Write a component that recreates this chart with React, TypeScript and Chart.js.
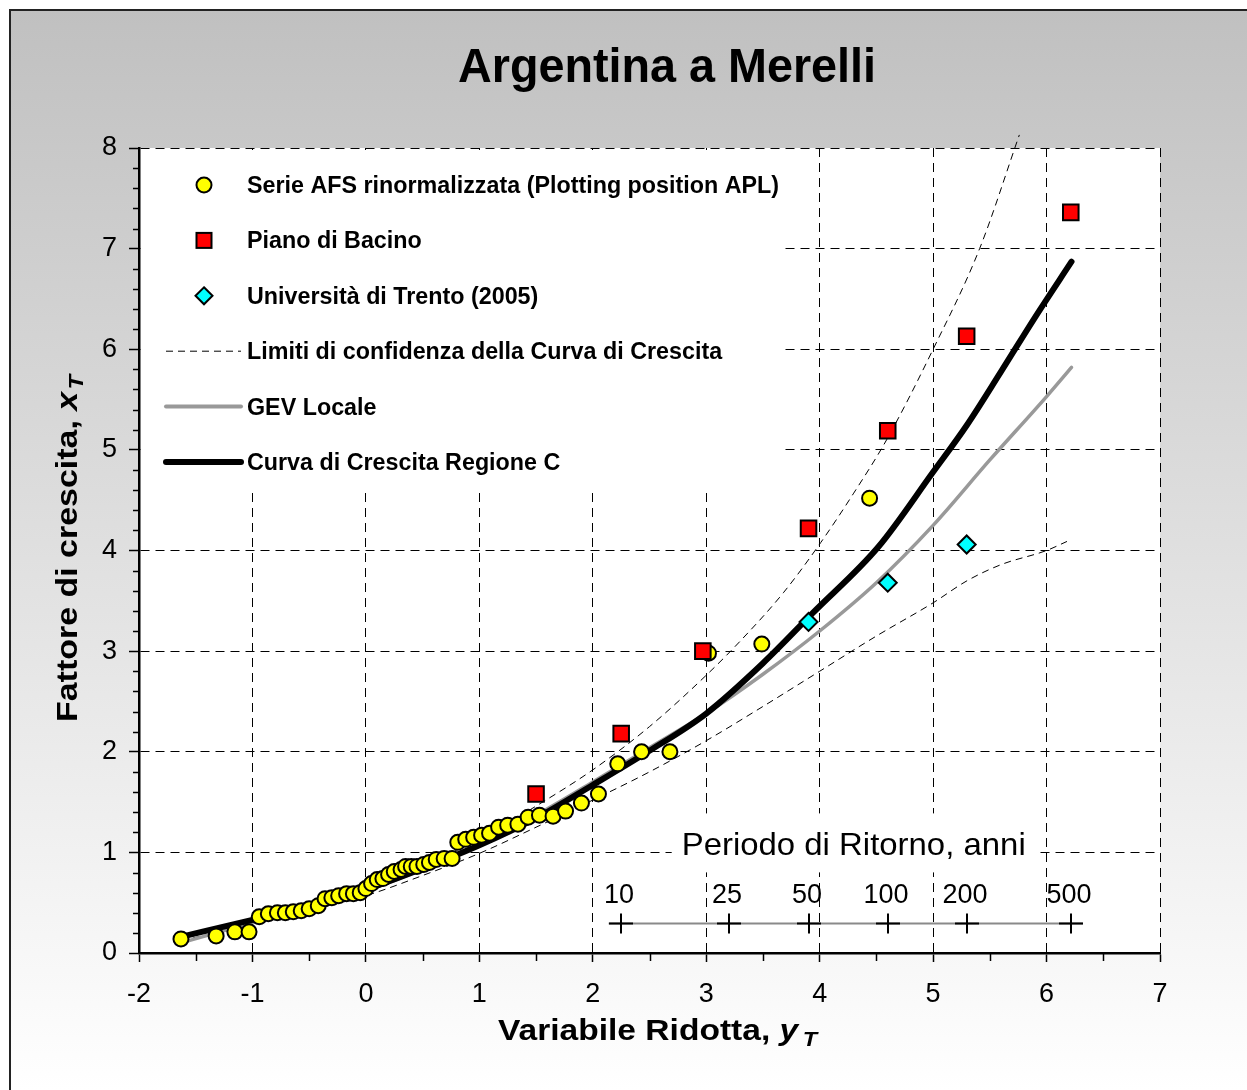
import { useEffect, useRef } from 'react';
import { Chart, registerables } from 'chart.js';

Chart.register(...registerables);

const FONT = '"Liberation Sans", Arial, Helvetica, sans-serif';

// Gumbel reduced variate for a return period T (years)
const reducedVariate = (T: number) => -Math.log(-Math.log(1 - 1 / T));

const chartTitle = 'Argentina a Merelli';
const xAxisTitle = 'Variabile Ridotta, ';
const yAxisTitle = 'Fattore di crescita, ';
const returnPeriodTitle = 'Periodo di Ritorno, anni';
const legendLabels = [
  'Serie AFS rinormalizzata (Plotting position APL)',
  'Piano di Bacino',
  'Università di Trento (2005)',
  'Limiti di confidenza della Curva di Crescita',
  'GEV Locale',
  'Curva di Crescita Regione C',
];

// Serie AFS rinormalizzata (plotting position APL)
const afsReducedVariate = [
  -1.63, -1.32, -1.155, -1.03, -0.94, -0.86, -0.78, -0.71, -0.64, -0.57, -0.5, -0.42, -0.36,
  -0.3, -0.24, -0.17, -0.11, -0.05, 0.0, 0.05, 0.1, 0.15, 0.2, 0.25, 0.31, 0.35, 0.4, 0.45,
  0.51, 0.56, 0.62, 0.69, 0.76, 0.81, 0.88, 0.95, 1.02, 1.09, 1.17, 1.25, 1.34, 1.43, 1.53,
  1.65, 1.76, 1.9, 2.05, 2.22, 2.43, 2.68, 3.02, 3.49, 4.44,
];
const afsGrowthFactor = [
  0.14, 0.17, 0.21, 0.21, 0.36, 0.39, 0.4, 0.4, 0.41, 0.42, 0.44, 0.47, 0.54,
  0.55, 0.57, 0.59, 0.59, 0.6, 0.64, 0.69, 0.73, 0.74, 0.78, 0.81, 0.83, 0.86, 0.86, 0.86,
  0.88, 0.9, 0.93, 0.94, 0.94, 1.1, 1.13, 1.15, 1.17, 1.19, 1.25, 1.27, 1.28, 1.35, 1.37,
  1.36, 1.41, 1.49, 1.58, 1.88, 2.0, 2.0, 2.98, 3.07, 4.52,
];

// Piano di Bacino
const pianoReturnPeriods = [5, 10, 20, 50, 100, 200, 500];
const pianoGrowthFactor = [1.58, 2.18, 3.0, 4.22, 5.19, 6.13, 7.36];

// Università di Trento (2005)
const trentoReturnPeriods = [50, 100, 200];
const trentoGrowthFactor = [3.29, 3.68, 4.06];

// Curva di Crescita Regione C
const regionCurveX = [-1.63, -1.0, -0.5, 0, 0.5, 1.0, 1.5, 2.0, 2.5, 3.0, 3.5, 3.94, 4.52, 5.0, 5.3, 5.6, 5.9, 6.22];
const regionCurveY = [0.16, 0.33, 0.46, 0.63, 0.84, 1.07, 1.34, 1.67, 2.01, 2.38, 2.88, 3.38, 4.04, 4.78, 5.25, 5.78, 6.32, 6.87];

// GEV Locale
const gevCurveX = [-1.63, -1.0, -0.5, 0, 0.5, 1.0, 1.5, 2.0, 2.5, 3.0, 3.5, 4.0, 4.5, 5.0, 5.5, 6.0, 6.22];
const gevCurveY = [0.1, 0.3, 0.45, 0.62, 0.83, 1.08, 1.37, 1.7, 2.04, 2.38, 2.77, 3.2, 3.68, 4.25, 4.9, 5.53, 5.82];

// Limiti di confidenza
const upperLimitX = [-1.63, -1.0, 0, 1.0, 1.5, 2.0, 2.5, 3.0, 3.3, 3.68, 4.01, 4.3, 4.59, 5.0, 5.41, 5.76];
const upperLimitY = [0.16, 0.34, 0.67, 1.13, 1.46, 1.82, 2.25, 2.76, 3.1, 3.58, 4.08, 4.57, 5.1, 6.0, 7.0, 8.13];
const lowerLimitX = [-1.63, -1.0, 0, 0.5, 1.0, 1.5, 2.0, 2.5, 3.0, 3.5, 4.0, 4.5, 5.0, 5.3, 5.6, 6.0, 6.18];
const lowerLimitY = [0.12, 0.29, 0.57, 0.77, 0.99, 1.25, 1.52, 1.8, 2.11, 2.45, 2.8, 3.15, 3.48, 3.7, 3.86, 4.0, 4.09];

// Secondary scale: return periods (years)
const returnPeriodTicks = [10, 25, 50, 100, 200, 500];

const X_MIN = -2;
const X_MAX = 7;
const Y_MIN = 0;
const Y_MAX = 8;

// Return-period ruler placement, in data units
const RP_AXIS_FROM = 2.14;
const RP_AXIS_TO = 6.32;
const RP_AXIS_LEVEL = 0.3;
const RP_LABEL_LEVEL = 0.5;
const RP_TITLE_LEVEL = 0.97;
const RP_TITLE_CENTER = 4.3;

const toPoints = (xs: number[], ys: number[]) => xs.map((x, i) => ({ x, y: ys[i] }));

type Run = { text: string; font: string; dy?: number; gap?: number };

function drawRuns(
  ctx: CanvasRenderingContext2D,
  runs: Run[],
  x: number,
  y: number,
  targetWidth: number,
  align: 'left' | 'center'
) {
  let total = 0;
  for (const r of runs) {
    ctx.font = r.font;
    total += ctx.measureText(r.text).width + (r.gap || 0);
  }
  const s = targetWidth > 0 ? targetWidth / total : 1;
  ctx.save();
  ctx.translate(x, y);
  ctx.scale(s, 1);
  ctx.textBaseline = 'alphabetic';
  ctx.textAlign = 'left';
  ctx.fillStyle = '#000';
  let cx = align === 'center' ? -total / 2 : 0;
  for (const r of runs) {
    cx += r.gap || 0;
    ctx.font = r.font;
    ctx.fillText(r.text, cx, r.dy || 0);
    cx += ctx.measureText(r.text).width;
  }
  ctx.restore();
}

const backgroundPlugin = {
  id: 'pageBackground',
  beforeDraw(chart: any) {
    const { ctx, width, height, chartArea } = chart;
    ctx.save();
    ctx.fillStyle = '#ffffff';
    ctx.fillRect(0, 0, width, height);
    const g = ctx.createLinearGradient(0, 10, 0, height);
    g.addColorStop(0, '#c0c0c0');
    g.addColorStop(1, '#ffffff');
    ctx.fillStyle = g;
    ctx.fillRect(10, 10, width - 10, height - 10);
    ctx.strokeStyle = '#222';
    ctx.lineWidth = 2;
    ctx.beginPath();
    ctx.moveTo(10, height);
    ctx.lineTo(10, 10);
    ctx.lineTo(width, 10);
    ctx.stroke();
    ctx.fillStyle = '#ffffff';
    ctx.fillRect(chartArea.left, chartArea.top, chartArea.right - chartArea.left, chartArea.bottom - chartArea.top);
    ctx.restore();
  },
};

const decorationsPlugin = {
  id: 'decorations',
  beforeDatasetsDraw(chart: any) {
    const { ctx, chartArea } = chart;
    const xs = chart.scales.x;
    const ys = chart.scales.y;
    ctx.save();

    // minor ticks
    ctx.strokeStyle = '#000';
    ctx.lineWidth = 1.5;
    ctx.beginPath();
    for (let v = X_MIN + 0.5; v < X_MAX; v += 1) {
      const px = Math.round(xs.getPixelForValue(v)) + 0.5;
      ctx.moveTo(px, chartArea.bottom);
      ctx.lineTo(px, chartArea.bottom + 8);
    }
    for (let k = 1; k < (Y_MAX - Y_MIN) * 5; k++) {
      if (k % 5 === 0) continue;
      const py = Math.round(ys.getPixelForValue(Y_MIN + k * 0.2)) + 0.5;
      ctx.moveTo(chartArea.left, py);
      ctx.lineTo(chartArea.left - 6, py);
    }
    ctx.stroke();

    // legend panel
    const lx = chartArea.left + 2;
    const ly = chartArea.top + 2;
    ctx.fillStyle = '#ffffff';
    ctx.fillRect(lx, ly, 644, 342);

    const legendFont = `bold 23px ${FONT}`;
    ctx.font = legendFont;
    const legendScale = 532 / ctx.measureText(legendLabels[0]).width;
    const textX = chartArea.left + 108;
    const markX = chartArea.left + 65;
    legendLabels.forEach((label, i) => {
      const cy = chartArea.top + 37 + i * 55.4;
      ctx.save();
      ctx.translate(textX, cy + 8);
      ctx.scale(legendScale, 1);
      ctx.font = legendFont;
      ctx.fillStyle = '#000';
      ctx.textBaseline = 'alphabetic';
      ctx.fillText(label, 0, 0);
      ctx.restore();

      ctx.save();
      ctx.strokeStyle = '#000';
      ctx.lineWidth = 2;
      if (i === 0) {
        ctx.fillStyle = '#ffff00';
        ctx.beginPath();
        ctx.arc(markX, cy, 7.5, 0, Math.PI * 2);
        ctx.fill();
        ctx.stroke();
      } else if (i === 1) {
        ctx.fillStyle = '#ff0000';
        ctx.fillRect(markX - 7.5, cy - 7.5, 15, 15);
        ctx.strokeRect(markX - 7.5, cy - 7.5, 15, 15);
      } else if (i === 2) {
        ctx.fillStyle = '#00ffff';
        ctx.beginPath();
        ctx.moveTo(markX, cy - 8.5);
        ctx.lineTo(markX + 8.5, cy);
        ctx.lineTo(markX, cy + 8.5);
        ctx.lineTo(markX - 8.5, cy);
        ctx.closePath();
        ctx.fill();
        ctx.stroke();
      } else {
        ctx.beginPath();
        ctx.moveTo(chartArea.left + 27, cy);
        ctx.lineTo(chartArea.left + 102, cy);
        if (i === 3) {
          ctx.lineWidth = 1;
          ctx.setLineDash([7, 5]);
        } else if (i === 4) {
          ctx.strokeStyle = '#999999';
          ctx.lineWidth = 4;
          ctx.lineCap = 'round';
        } else {
          ctx.lineWidth = 6;
          ctx.lineCap = 'round';
        }
        ctx.stroke();
      }
      ctx.restore();
    });

    // return-period ruler
    const titleBase = ys.getPixelForValue(RP_TITLE_LEVEL);
    const titleCx = xs.getPixelForValue(RP_TITLE_CENTER);
    ctx.fillStyle = '#ffffff';
    ctx.fillRect(titleCx - 182, titleBase - 42, 364, 59);
    drawRuns(ctx, [{ text: returnPeriodTitle, font: `32px ${FONT}` }], titleCx, titleBase, 344, 'center');

    const axisY = Math.round(ys.getPixelForValue(RP_AXIS_LEVEL)) + 0.5;
    ctx.strokeStyle = '#8a8a8a';
    ctx.lineWidth = 2;
    ctx.beginPath();
    ctx.moveTo(xs.getPixelForValue(RP_AXIS_FROM), axisY);
    ctx.lineTo(xs.getPixelForValue(RP_AXIS_TO), axisY);
    ctx.stroke();

    const labelBase = ys.getPixelForValue(RP_LABEL_LEVEL);
    ctx.strokeStyle = '#000';
    ctx.lineWidth = 2;
    ctx.font = `27px ${FONT}`;
    ctx.fillStyle = '#000';
    ctx.textAlign = 'center';
    ctx.textBaseline = 'alphabetic';
    returnPeriodTicks.forEach((T) => {
      const px = Math.round(xs.getPixelForValue(reducedVariate(T)));
      ctx.beginPath();
      ctx.moveTo(px - 12, axisY);
      ctx.lineTo(px + 12, axisY);
      ctx.moveTo(px, axisY - 10);
      ctx.lineTo(px, axisY + 10);
      ctx.stroke();
      ctx.fillText(String(T), px - 2, labelBase);
    });
    ctx.restore();
  },
  afterDraw(chart: any) {
    const { ctx, chartArea } = chart;
    // chart title
    drawRuns(ctx, [{ text: chartTitle, font: `bold 48px ${FONT}` }], 667, 82, 418, 'center');
    // x axis title
    drawRuns(
      ctx,
      [
        { text: xAxisTitle, font: `bold 30px ${FONT}` },
        { text: 'y', font: `italic bold 30px ${FONT}` },
        { text: 'T', font: `italic bold 21px ${FONT}`, dy: 6, gap: 4 },
      ],
      chartArea.left + 359,
      1040,
      319,
      'left'
    );
    // y axis title (rotated)
    ctx.save();
    ctx.translate(77, 722);
    ctx.rotate(-Math.PI / 2);
    drawRuns(
      ctx,
      [
        { text: yAxisTitle, font: `bold 30px ${FONT}` },
        { text: 'x', font: `italic bold 30px ${FONT}` },
        { text: 'T', font: `italic bold 21px ${FONT}`, dy: 6, gap: 2 },
      ],
      0,
      0,
      347,
      'left'
    );
    ctx.restore();
  },
};

const isInteger = (v: number) => Math.abs(v - Math.round(v)) < 1e-6;

export default function App() {
  const canvasRef = useRef<HTMLCanvasElement | null>(null);

  useEffect(() => {
    const canvas = canvasRef.current;
    if (!canvas) return;
    const chart = new Chart(canvas, {
      type: 'scatter',
      data: {
        datasets: [
          {
            label: legendLabels[1],
            data: pianoReturnPeriods.map((T, i) => ({ x: reducedVariate(T), y: pianoGrowthFactor[i] })),
            pointStyle: 'rect',
            pointRadius: 11,
            backgroundColor: '#ff0000',
            borderColor: '#000',
            borderWidth: 2,
            order: 0,
          },
          {
            label: legendLabels[2],
            data: trentoReturnPeriods.map((T, i) => ({ x: reducedVariate(T), y: trentoGrowthFactor[i] })),
            pointStyle: 'rectRot',
            pointRadius: 9,
            backgroundColor: '#00ffff',
            borderColor: '#000',
            borderWidth: 2,
            order: 1,
          },
          {
            label: legendLabels[0],
            data: toPoints(afsReducedVariate, afsGrowthFactor),
            pointStyle: 'circle',
            pointRadius: 7.5,
            backgroundColor: '#ffff00',
            borderColor: '#000',
            borderWidth: 2,
            order: 2,
          },
          {
            label: legendLabels[5],
            data: toPoints(regionCurveX, regionCurveY),
            showLine: true,
            borderColor: '#000',
            borderWidth: 6,
            borderCapStyle: 'round',
            borderJoinStyle: 'round',
            pointRadius: 0,
            cubicInterpolationMode: 'monotone',
            order: 3,
          },
          {
            label: legendLabels[4],
            data: toPoints(gevCurveX, gevCurveY),
            showLine: true,
            borderColor: '#999999',
            borderWidth: 3.5,
            borderCapStyle: 'round',
            pointRadius: 0,
            cubicInterpolationMode: 'monotone',
            order: 4,
          },
          {
            label: legendLabels[3],
            data: toPoints(upperLimitX, upperLimitY),
            showLine: true,
            borderColor: '#000',
            borderWidth: 1,
            borderDash: [7, 5],
            pointRadius: 0,
            cubicInterpolationMode: 'monotone',
            clip: false,
            order: 5,
          },
          {
            label: legendLabels[3] + ' ',
            data: toPoints(lowerLimitX, lowerLimitY),
            showLine: true,
            borderColor: '#000',
            borderWidth: 1,
            borderDash: [7, 5],
            pointRadius: 0,
            cubicInterpolationMode: 'monotone',
            order: 6,
          },
        ],
      } as any,
      options: {
        animation: false,
        responsive: false,
        devicePixelRatio: 1,
        events: [],
        layout: { padding: { left: 0, top: 148, right: 87, bottom: 0 } },
        plugins: {
          legend: { display: false },
          title: { display: false },
          tooltip: { enabled: false },
        },
        scales: {
          x: {
            type: 'linear',
            min: X_MIN,
            max: X_MAX,
            ticks: {
              stepSize: 1,
              color: '#000',
              font: { family: FONT, size: 27 },
              padding: 16,
              callback: (v: any) => (isInteger(Number(v)) ? String(Math.round(Number(v))) : ''),
            },
            grid: {
              color: '#000',
              lineWidth: 1,
              drawTicks: true,
              tickLength: 9,
              tickColor: '#000',
              tickWidth: 1.5,
              tickBorderDash: [],
            },
            border: { display: true, color: '#000', width: 2.5, dash: [9, 6] },
            afterFit: (scale: any) => {
              scale.height = 137;
            },
          },
          y: {
            type: 'linear',
            min: Y_MIN,
            max: Y_MAX,
            ticks: {
              stepSize: 1,
              color: '#000',
              font: { family: FONT, size: 27 },
              padding: 12,
            },
            grid: {
              color: '#000',
              lineWidth: 1,
              drawTicks: true,
              tickLength: 10,
              tickColor: '#000',
              tickWidth: 1.5,
              tickBorderDash: [],
            },
            border: { display: true, color: '#000', width: 2.5, dash: [9, 6] },
            afterFit: (scale: any) => {
              scale.width = 139;
            },
          },
        },
      } as any,
      plugins: [backgroundPlugin, decorationsPlugin],
    });
    return () => chart.destroy();
  }, []);

  return (
    <div style={{ position: 'absolute', left: 0, top: 0, width: 1247, height: 1090 }}>
      <canvas ref={canvasRef} width={1247} height={1090} style={{ display: 'block' }} />
    </div>
  );
}
